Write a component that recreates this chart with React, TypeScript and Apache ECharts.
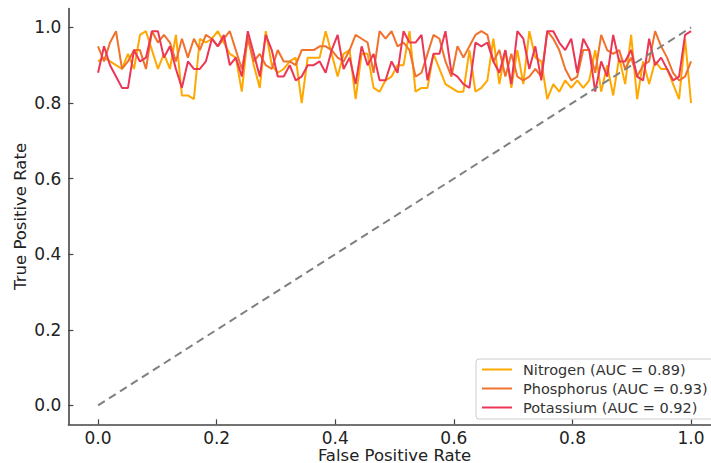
import React, { useEffect, useRef } from "react";
import * as echarts from "echarts";

const seriesNames = ["Nitrogen", "Phosphorus", "Potassium"];
const aucValues = [0.89, 0.93, 0.92];
const seriesColors = ["#FFA800", "#F0722C", "#EC3656"];
const tickValues = [0, 0.2, 0.4, 0.6, 0.8, 1.0];

const nitrogenTpr = [
  0.91, 0.92, 0.91, 0.90, 0.89, 0.93, 0.89, 0.98, 0.99, 0.94, 0.89, 0.93, 0.89, 0.98, 0.82, 0.82, 0.81,
  0.97, 0.96, 0.97, 0.99, 0.96, 0.93, 0.92, 0.83, 0.98, 0.90, 0.84, 0.99, 0.90, 0.88, 0.89, 0.91,
  0.92, 0.80, 0.92, 0.92, 0.92, 0.99, 0.93, 0.87, 0.93, 0.94, 0.81, 0.93, 0.93, 0.84, 0.83, 0.86,
  0.87, 0.90, 0.90, 0.99, 0.83, 0.84, 0.84, 0.93, 0.89, 0.85, 0.84, 0.83, 0.83, 0.94, 0.83, 0.84,
  0.86, 0.97, 0.85, 0.94, 0.84, 0.94, 0.85, 0.99, 0.92, 0.91, 0.81, 0.85, 0.83, 0.86, 0.84, 0.86,
  0.84, 0.86, 0.94, 0.83, 0.90, 0.82, 0.92, 0.85, 0.98, 0.81, 0.91, 0.85, 0.91, 0.89, 0.89, 0.85, 0.81, 0.97, 0.80,
];
const phosphorusTpr = [
  0.95, 0.91, 0.96, 0.99, 0.89, 0.91, 0.94, 0.94, 0.89, 0.99, 0.96, 0.98, 0.96, 0.91, 0.97, 0.92, 0.97,
  0.94, 0.98, 0.97, 0.95, 0.97, 0.99, 0.94, 0.89, 0.97, 0.91, 0.93, 0.90, 0.89, 0.94, 0.91, 0.91,
  0.90, 0.94, 0.94, 0.94, 0.95, 0.95, 0.94, 0.92, 0.91, 0.94, 0.98, 0.97, 0.96, 0.88, 0.99, 0.97,
  0.99, 0.95, 0.96, 0.94, 0.87, 0.88, 0.93, 0.98, 0.97, 0.91, 0.87, 0.95, 0.92, 0.95, 0.98, 0.99,
  0.98, 0.91, 0.94, 0.87, 0.93, 0.87, 0.86, 0.87, 0.89, 0.87, 0.99, 0.97, 0.94, 0.89, 0.86, 0.87,
  0.94, 0.94, 0.88, 0.98, 0.94, 0.93, 0.94, 0.89, 0.92, 0.87, 0.90, 0.91, 0.99, 0.95, 0.92, 0.88, 0.86, 0.87, 0.91,
];
const potassiumTpr = [
  0.88, 0.95, 0.90, 0.87, 0.84, 0.84, 0.94, 0.91, 0.92, 0.99, 0.99, 0.92, 0.95, 0.89, 0.84, 0.91, 0.89,
  0.89, 0.91, 0.97, 0.95, 0.98, 0.90, 0.92, 0.87, 0.99, 0.93, 0.87, 0.98, 0.94, 0.87, 0.87, 0.90,
  0.86, 0.87, 0.90, 0.90, 0.91, 0.88, 0.94, 0.98, 0.89, 0.92, 0.85, 0.95, 0.90, 0.93, 0.86, 0.86,
  0.91, 0.88, 0.99, 0.96, 0.96, 0.98, 0.86, 0.93, 0.93, 0.99, 0.88, 0.87, 0.85, 0.84, 0.96, 0.95,
  0.96, 0.91, 0.88, 0.94, 0.85, 0.99, 0.97, 0.89, 0.95, 0.86, 0.99, 0.99, 0.96, 0.94, 0.97, 0.88,
  0.97, 0.94, 0.83, 0.91, 0.87, 0.98, 0.91, 0.91, 0.94, 0.87, 0.86, 0.97, 0.90, 0.92, 0.89, 0.86, 0.87, 0.98, 0.99,
];
const tprSeries = [nitrogenTpr, phosphorusTpr, potassiumTpr];
// evenly spaced false-positive-rate sample grid (100 thresholds from 0 to 1)
const fpr = nitrogenTpr.map((_, i) => i / (nitrogenTpr.length - 1));
const diagonal = [[0, 0], [1, 1]];

export default function App() {
  const ref = useRef<HTMLDivElement>(null);
  useEffect(() => {
    if (!ref.current) return;
    const chart = echarts.init(ref.current, undefined, { renderer: "svg" });
    const font = "DejaVu Sans";
    const axisCommon = {
      type: "value" as const,
      min: -0.05,
      max: 1.05,
      axisLine: { show: true, onZero: false, lineStyle: { color: "#444", width: 1.6 } },
      axisTick: { show: true, inside: true, length: 5, customValues: tickValues, lineStyle: { color: "#444", width: 1.2 } },
      axisLabel: {
        customValues: tickValues,
        formatter: (v: number) => v.toFixed(1),
        fontFamily: font,
        fontSize: 17,
        lineHeight: 16,
        color: "#222",
      },
      splitLine: { show: false },
      nameLocation: "middle" as const,
      nameMoveOverlap: false,
      nameTextStyle: { fontFamily: font, fontSize: 16.5, lineHeight: 16, color: "#222" },
    };
    chart.setOption({
      animation: false,
      backgroundColor: "#fff",
      grid: { left: 68.4, top: 8.5, width: 652.3, height: 415.8, containLabel: false, outerBoundsMode: "none" },
      xAxis: { ...axisCommon, name: "False Positive Rate", nameGap: 23, axisLabel: { ...axisCommon.axisLabel, margin: 6 } },
      yAxis: { ...axisCommon, name: "True Positive Rate", nameGap: 40, axisLabel: { ...axisCommon.axisLabel, margin: 7 } },
      legend: {
        orient: "vertical",
        left: 476,
        top: 359,
        padding: [3, 10, 4, 6],
        itemGap: 4,
        itemWidth: 30,
        itemHeight: 2,
        icon: "rect",
        backgroundColor: "rgba(255,255,255,0.85)",
        borderColor: "#ccc",
        borderWidth: 1,
        borderRadius: 3,
        data: seriesNames.map((n, i) => `${n} (AUC = ${aucValues[i].toFixed(2)})`),
        textStyle: { fontFamily: font, fontSize: 14.5, color: "#333", lineHeight: 15, padding: [0, 0, 0, 6] },
      },
      series: [
        ...seriesNames.map((n, i) => ({
          name: `${n} (AUC = ${aucValues[i].toFixed(2)})`,
          type: "line",
          showSymbol: false,
          color: seriesColors[i],
          lineStyle: { width: 2, color: seriesColors[i] },
          data: fpr.map((x, j) => [x, tprSeries[i][j]]),
          z: 2 + i,
        })),
        {
          name: "diag",
          type: "line",
          showSymbol: false,
          lineStyle: { width: 2, color: "#808080", type: [8, 5] },
          data: diagonal,
          z: 6,
        },
      ],
    });
    return () => chart.dispose();
  }, []);
  return <div ref={ref} style={{ position: "fixed", left: 0, top: 0, width: 722, height: 463 }} />;
}
